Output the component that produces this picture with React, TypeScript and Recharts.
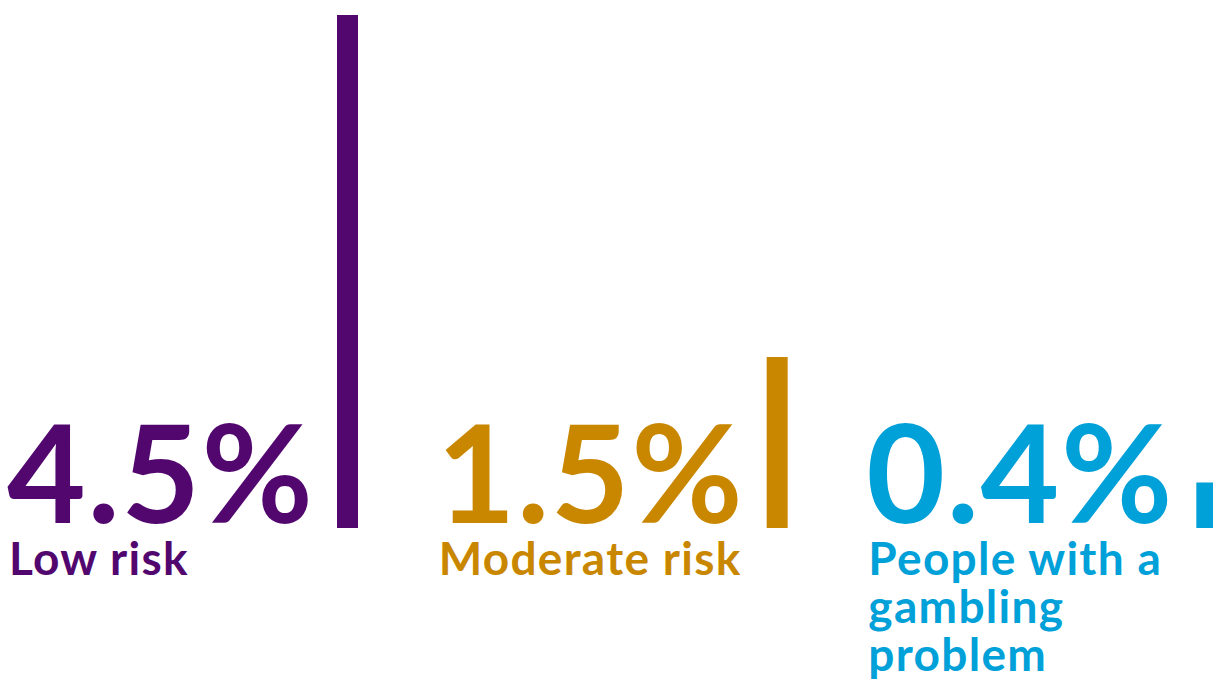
import { BarChart, Bar, XAxis, YAxis, LabelList, Cell } from "recharts"

const categories = ["Low risk", "Moderate risk", "People with a gambling problem"]
const values = [4.5, 1.5, 0.4]
const colors = ["#52076f", "#c98700", "#00a0d8"]

const data = categories.map((name, i) => ({
  name,
  value: values[i],
  pct: `${values[i].toFixed(1)}%`,
}))

const FONT = "Lato, 'Open Sans', sans-serif"
// text block starts this far left of its bar
const TEXT_OFFSET = 330

// split a category into short lines
const wrap = (s: string, max = 14) => {
  const lines: string[] = []
  let cur = ""
  s.split(" ").forEach((w) => {
    if (cur && (cur + " " + w).length > max) {
      lines.push(cur)
      cur = w
    } else {
      cur = cur ? cur + " " + w : w
    }
  })
  if (cur) lines.push(cur)
  return lines
}

const ValueLabel = (props: any) => {
  const { x, y, height, value, index } = props
  return (
    <text
      x={x - TEXT_OFFSET}
      y={y + height - 5}
      fill={colors[index]}
      fontSize={136}
      fontWeight={700}
      letterSpacing={1.5}
      fontFamily={FONT}
    >
      {value}
    </text>
  )
}

const NameLabel = (props: any) => {
  const { x, y, height, value, index } = props
  const lines = wrap(String(value))
  const lx = x - TEXT_OFFSET + 2
  return (
    <text x={lx} y={y + height + 47} fill={colors[index]} fontSize={46} fontWeight={700} letterSpacing={1.3} fontFamily={FONT}>
      {lines.map((l, i) => (
        <tspan key={i} x={lx} dy={i === 0 ? 0 : 48}>
          {l}
        </tspan>
      ))}
    </text>
  )
}

const App = () => {
  return (
    <div style={{ position: "absolute", left: 0, top: 0, width: 1213, height: 684, overflow: "hidden", background: "#fff" }}>
      <BarChart width={1422} height={684} data={data} margin={{ top: 15, right: 0, bottom: 156, left: 133 }} barSize={21}>
        <XAxis dataKey="name" hide />
        <YAxis hide domain={[0, 4.5]} />
        <Bar dataKey="value" isAnimationActive={false}>
          {data.map((d, i) => (
            <Cell key={d.name} fill={colors[i]} />
          ))}
          <LabelList dataKey="pct" content={ValueLabel} />
          <LabelList dataKey="name" content={NameLabel} />
        </Bar>
      </BarChart>
    </div>
  )
}

export default App
